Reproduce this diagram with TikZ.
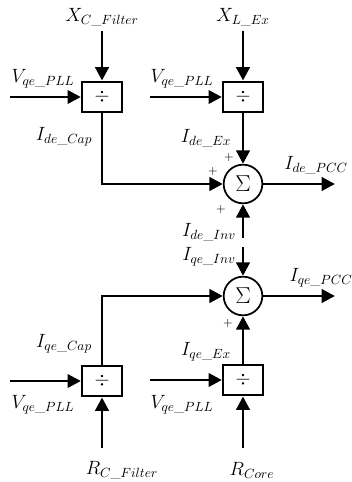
\documentclass[tikz,border=0pt]{standalone}
\usepackage{amsmath}
\usepackage{amssymb}
\usepackage{xcolor}
\usepackage{tikz}
\usetikzlibrary{shapes, arrows.meta, positioning, calc}

\begin{document}
\begin{tikzpicture}[x=0.75pt,y=-0.75pt,
  divbox/.style={draw,line width=1.7pt,minimum width=30pt,minimum height=23pt,inner sep=0pt,font=\Large},
  sumnode/.style={draw,circle,line width=1.3pt,minimum size=29pt,inner sep=0pt,font=\LARGE},
  sig/.style={line width=2.2pt,-{Triangle[length=10pt,width=10pt]}},
  lbl/.style={font=\Large}]
  % Frame
  \useasboundingbox (0,0) rectangle (352,482);

  % Divider blocks
  \node[divbox] (divA) at (102,97) {$\div$};
  \node[divbox] (divB) at (243,97) {$\div$};
  \node[divbox] (divC) at (102,381) {$\div$};
  \node[divbox] (divD) at (243,380) {$\div$};

  % Summing junctions
  \node[sumnode] (sumD) at (243,184) {$\Sigma$};
  \node[sumnode] (sumQ) at (243,296) {$\Sigma$};

  % Free ends
  \coordinate (xcf) at (102,31);
  \coordinate (xle) at (243,31);
  \coordinate (vA) at (10,97);
  \coordinate (vB) at (150,97);
  \coordinate (vC) at (10,381);
  \coordinate (vD) at (150,380);
  \coordinate (rcf) at (102,448);
  \coordinate (rco) at (243,448);
  \coordinate (ideinv) at (243,238);
  \coordinate (iqeinv) at (243,247);
  \coordinate (idpcc) at (335,184);
  \coordinate (iqpcc) at (335,296);

  % Top inputs
  \draw[sig] (xcf) -- (divA);
  \draw[sig] (xle) -- (divB);
  \draw[sig] (vA) -- (divA);
  \draw[sig] (vB) -- (divB);

  % Bottom inputs
  \draw[sig] (vC) -- (divC);
  \draw[sig] (vD) -- (divD);
  \draw[sig] (rcf) -- (divC);
  \draw[sig] (rco) -- (divD);

  % To the summing junctions
  \draw[sig] (divA.south) |- (sumD.west);
  \draw[sig] (divB) -- (sumD);
  \draw[sig] (divC.north) |- (sumQ.west);
  \draw[sig] (divD) -- (sumQ);
  \draw[sig] (ideinv) -- (sumD);
  \draw[sig] (iqeinv) -- (sumQ);

  % Outputs
  \draw[sig] (sumD) -- (idpcc);
  \draw[sig] (sumQ) -- (iqpcc);

  % Labels
  \node[lbl] at (102,17) {$X_{C\_Filter}$};
  \node[lbl] at (243,17) {$X_{L\_Ex}$};
  \node[lbl] at (43,79) {$V_{qe\_PLL}$};
  \node[lbl] at (182,79) {$V_{qe\_PLL}$};
  \node[lbl] at (64,137) {$I_{de\_Cap}$};
  \node[lbl] at (206,138) {$I_{de\_Ex}$};
  \node[lbl] at (316,165) {$I_{de\_PCC}$};
  \node[lbl] at (209,232) {$I_{de\_Inv}$};
  \node[lbl] at (209,257) {$I_{qe\_Inv}$};
  \node[lbl] at (321,278) {$I_{qe\_PCC}$};
  \node[lbl] at (64,344) {$I_{qe\_Cap}$};
  \node[lbl] at (206,352) {$I_{qe\_Ex}$};
  \node[lbl] at (43,405) {$V_{qe\_PLL}$};
  \node[lbl] at (182,405) {$V_{qe\_PLL}$};
  \node[lbl] at (122,470) {$R_{C\_Filter}$};
  \node[lbl] at (252,470) {$R_{Core}$};

  % Signs
  \node[font=\small] at (229,157) {$+$};
  \node[font=\small] at (213,171) {$+$};
  \node[font=\small] at (221,209) {$+$};
  \node[font=\small] at (228,323) {$+$};
\end{tikzpicture}
\end{document}
